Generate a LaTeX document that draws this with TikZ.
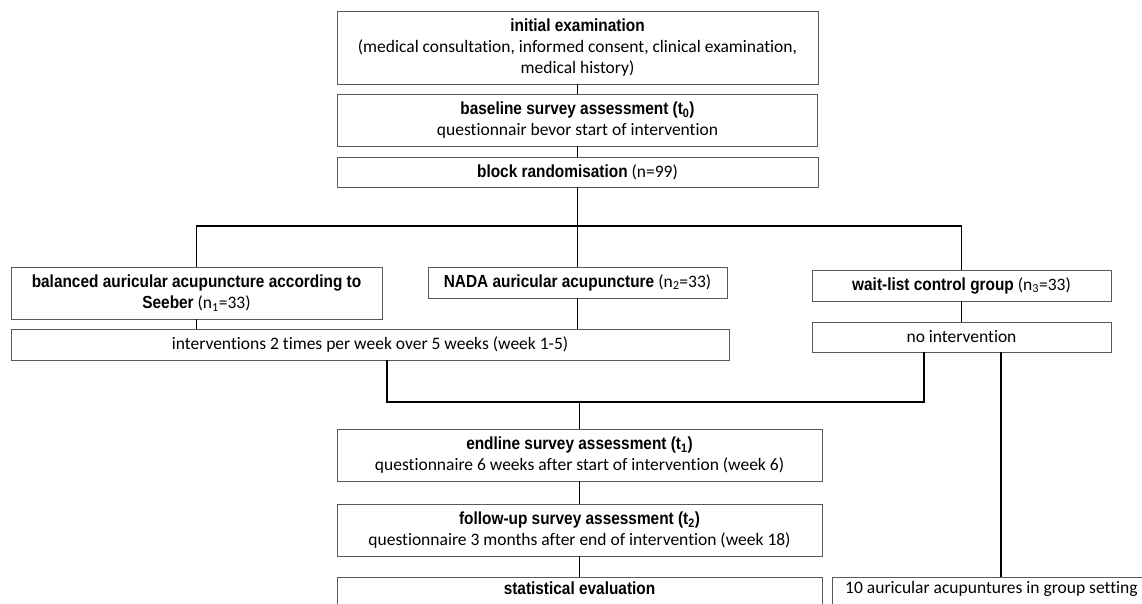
\documentclass[tikz,border=0pt]{standalone}
\usepackage{fontspec}
\setmainfont[Ligatures=NoCommon]{Carlito}
\newfontfamily\headfont[FakeStretch=0.88]{Liberation Sans}
\newcommand{\hd}[1]{{\headfont\bfseries #1}}
\tikzstyle{box}=[rectangle,draw=black!65,line width=0.9pt,inner sep=0pt,align=center,font=\fontsize{17.5}{21}\selectfont]
\tikzstyle{link}=[line width=1.6pt,black]

\begin{document}
\begin{tikzpicture}[x=1pt,y=-1pt]
	\useasboundingbox (0,0) rectangle (1142,604);

	% main column
	\node[box,minimum width=481pt,minimum height=73pt] (init) at (577.5,47.5) {\hd{initial examination}\\(medical consultation, informed consent, clinical examination,\\medical history)};
	\node[box,minimum width=480pt,minimum height=52pt] (base) at (577.5,120) {\hd{baseline survey assessment (t\textsubscript{0})}\\questionnair bevor start of intervention};
	\node[box,minimum width=481pt,minimum height=30pt] (block) at (577.5,172) {\hd{block randomisation} (n=99)};

	% the three groups
	\node[box,minimum width=371pt,minimum height=52pt] (bal) at (196.5,293) {\hd{balanced auricular acupuncture according to}\\\hd{Seeber} (n\textsubscript{1}=33)};
	\node[box,minimum width=299pt,minimum height=31pt] (nada) at (577.5,282.5) {\hd{NADA auricular acupuncture} (n\textsubscript{2}=33)};
	\node[box,minimum width=299pt,minimum height=31pt] (wait) at (961.5,285.5) {\hd{wait-list control group} (n\textsubscript{3}=33)};
	\node[box,minimum width=718pt,minimum height=31pt] (interv) at (370,344.5) {interventions 2 times per week over 5 weeks (week 1-5)};
	\node[box,minimum width=299pt,minimum height=30pt] (noint) at (961.5,337) {no intervention};

	% assessments
	\node[box,minimum width=485pt,minimum height=52pt] (endl) at (579.5,455) {\hd{endline survey assessment (t\textsubscript{1})}\\questionnaire 6 weeks after start of intervention (week 6)};
	\node[box,minimum width=485pt,minimum height=52pt] (follow) at (579.5,530) {\hd{follow-up survey assessment (t\textsubscript{2})}\\questionnaire 3 months after end of intervention (week 18)};
	\node[box,anchor=north,minimum width=485pt,inner ysep=4pt,text depth=40pt] (stat) at (579.5,577) {\hd{statistical evaluation}};
	\node[box,anchor=north west,minimum width=318pt,inner ysep=4pt,text depth=40pt] (acup) at (832,577) {10 auricular acupuntures in group setting};

	\coordinate (split) at (577.5,226);
	\coordinate (merge) at (579.5,402);

	\draw[link] (init) -- (base);
	\draw[link] (base) -- (block);
	\draw[link] (block) -- (split) -- (nada);
	\draw[link] (bal.north) |- (split) -| (wait.north);
	\draw[link] (bal) -- (bal |- interv.north);
	\draw[link] (nada) -- (nada |- interv.north);
	\draw[link] (wait) -- (noint);
	\draw[link] ([xshift=17pt]interv.south) |- (merge) -| ([xshift=-37.5pt]noint.south);
	\draw[link] (merge) -- (endl);
	\draw[link] (endl) -- (follow);
	\draw[link] (follow) -- (stat);
	\draw[link] ([xshift=39.5pt]noint.south) -- ([xshift=39.5pt]noint.south |- acup.north);
\end{tikzpicture}
\end{document}
